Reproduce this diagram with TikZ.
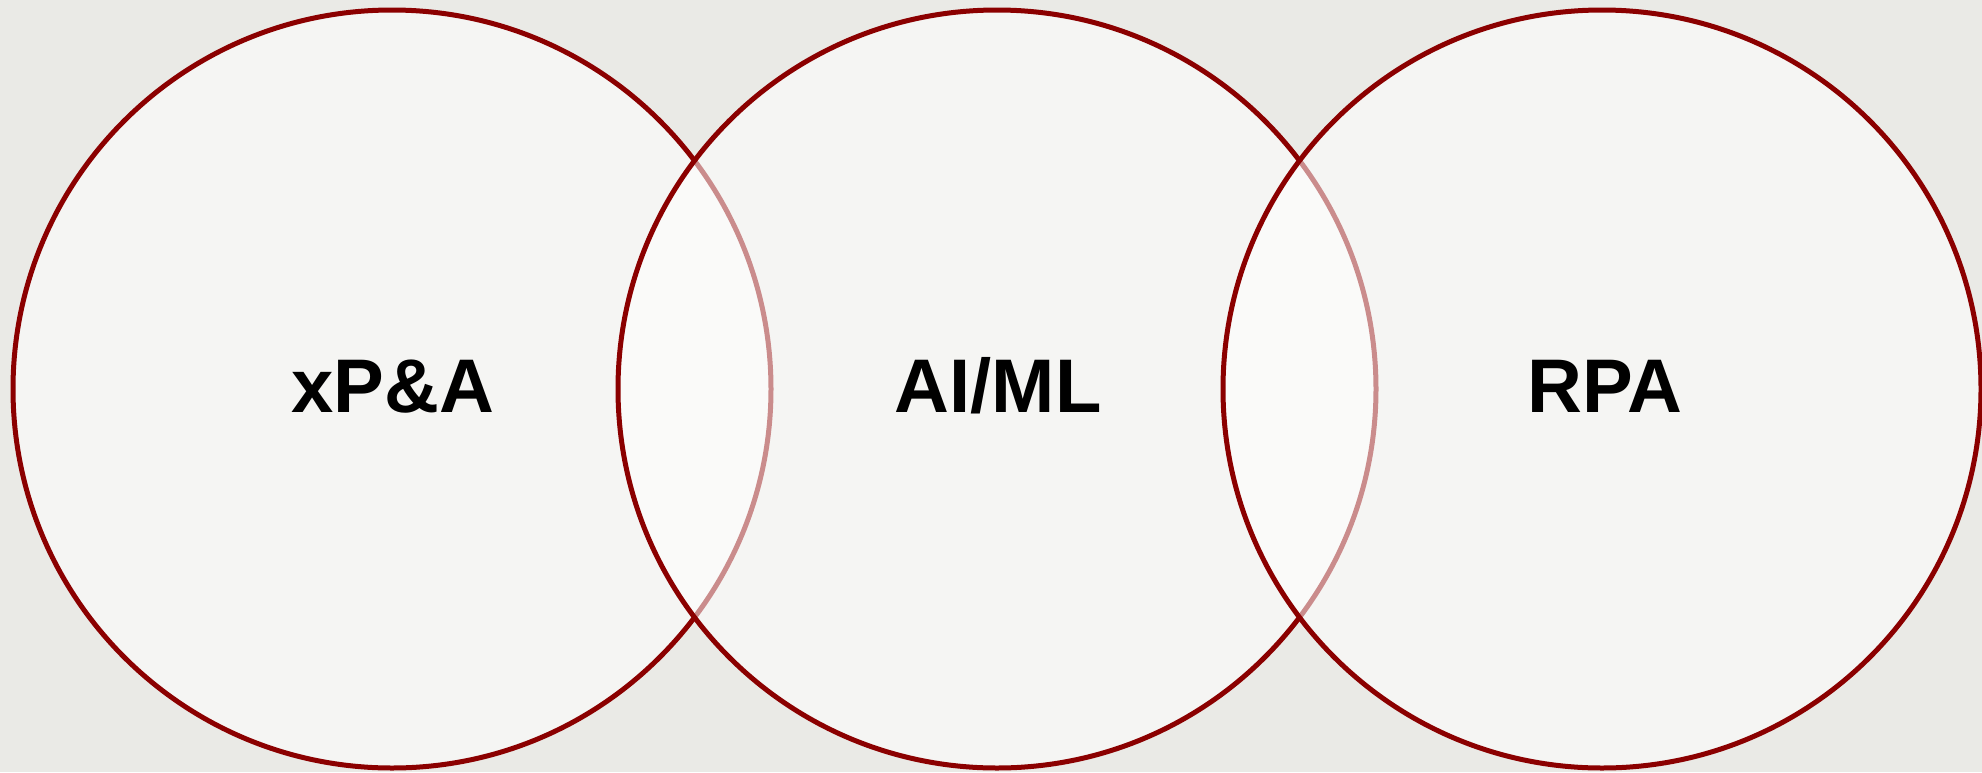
\documentclass[tikz,border=0pt]{standalone}
\usepackage{fontspec}
\setmainfont{Liberation Sans}
\definecolor{bgcol}{HTML}{EAEAE6}
\definecolor{ringcol}{HTML}{8B0000}
\begin{document}
\begin{tikzpicture}[x=1pt,y=-1pt,
  venn/.style={circle, draw=ringcol, line width=5pt, fill=white, fill opacity=0.55,
    draw opacity=1, inner sep=0pt, minimum size=758pt},
  vlabel/.style={anchor=base, inner sep=0pt, font=\bfseries\fontsize{76}{90}\selectfont, text=black}]
\fill[bgcol] (0,0) rectangle (1982,772);
\useasboundingbox (0,0) rectangle (1982,772);
\node[venn] (c1) at (392,389) {};
\node[venn] (c2) at (997,389) {};
\node[venn] (c3) at (1602,389) {};
\node[vlabel] (t1) at (393,412) {xP\&A};
\node[vlabel] (t2) at (998,412) {AI/ML};
\node[vlabel] (t3) at (1605,412) {RPA};
\end{tikzpicture}
\end{document}
